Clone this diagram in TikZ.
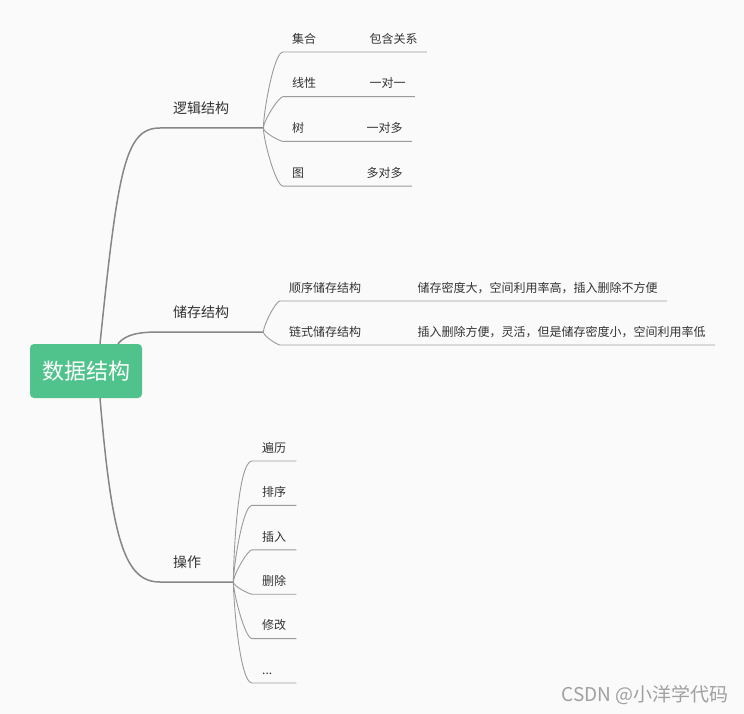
\documentclass[tikz,border=0pt]{standalone}
\usepackage{fontspec}
\setmainfont{Noto Sans CJK SC}
\usetikzlibrary{positioning}
\definecolor{bgc}{HTML}{FAFAFA}
\definecolor{rootc}{HTML}{50C28B}
\definecolor{txt}{HTML}{333333}
\definecolor{trunkc}{HTML}{868686}
\definecolor{twigc}{HTML}{9A9A9A}
\definecolor{markc}{HTML}{A0A0A0}

\begin{document}
\begin{tikzpicture}[
    x=1pt, y=1pt,
    rootbox/.style={fill=rootc, rounded corners=4pt, text=white, font=\fontsize{22}{26}\selectfont, minimum width=112pt, minimum height=54pt},
    topic/.style={anchor=south west, text=txt, font=\fontsize{14}{16}\selectfont, align=left, text width=#1, inner xsep=13pt, inner ysep=13pt, text height=12.3pt, text depth=1.7pt},
    leaf/.style={anchor=south west, text=txt, font=\fontsize{12}{14}\selectfont, inner xsep=9pt, inner ysep=7pt, text height=10.5pt, text depth=1.5pt},
    opleaf/.style={leaf, align=left, text width=24pt, inner xsep=10pt},
    trunk/.style={draw=trunkc, line width=1.5pt},
    twig/.style={draw=twigc, line width=0.9pt},
    fanup/.style={out=90, in=180, out looseness=0.5, in looseness=0.3},
    fandn/.style={out=-90, in=180, out looseness=0.5, in looseness=0.3}
]
\fill[bgc] (0,0) rectangle (744,-714);
\useasboundingbox (0,0) rectangle (744,-714);

\node[rootbox] (root) at (86,-371) {数据结构};
\node[topic=77pt] (logic) at (160,-128) {逻辑结构};
\node[topic=77pt] (store) at (160,-332) {储存结构};
\node[topic=47pt] (oper) at (160,-582) {操作};

% logic
\node[leaf] (set) at (283,-52) {集合};
\node[leaf, below=44.7pt of set.south west, anchor=south west] (lin) {线性};
\node[leaf, below=44.7pt of lin.south west, anchor=south west] (tree) {树};
\node[leaf, below=44.7pt of tree.south west, anchor=south west] (graph) {图};
\node[leaf, right=35pt of set.south east, anchor=south west] (incl) {包含关系};
\node[leaf, right=35pt of lin.south east, anchor=south west] (one) {一对一};
\node[leaf, right=44pt of tree.south east, anchor=south west] (onemany) {一对多};
\node[leaf, right=44pt of graph.south east, anchor=south west] (manymany) {多对多};

% store
\node[leaf] (seq) at (280,-301) {顺序储存结构};
\node[leaf, below=44pt of seq.south west, anchor=south west] (link) {链式储存结构};
\node[leaf, right=38pt of seq.south east, anchor=south west] (seqnote) {储存密度大，空间利用率高，插入删除不方便};
\node[leaf, right=38pt of link.south east, anchor=south west] (linknote) {插入删除方便，灵活，但是储存密度小，空间利用率低};

% oper
\node[opleaf] (trav) at (252,-461) {遍历};
\node[opleaf, below=44.4pt of trav.south west, anchor=south west] (sort) {排序};
\node[opleaf, below=44.4pt of sort.south west, anchor=south west] (ins) {插入};
\node[opleaf, below=44.4pt of ins.south west, anchor=south west] (del) {删除};
\node[opleaf, below=44.4pt of del.south west, anchor=south west] (mod) {修改};
\node[opleaf, below=44.4pt of mod.south west, anchor=south west] (etc) {...};

\draw[trunk] ([xshift=14pt]root.north) .. controls +(18,175) and +(-35,0) .. (logic.south west) -- (logic.south east);
\draw[trunk] ([xshift=32pt]root.north) .. controls +(8,10) and +(-20,0) .. (store.south west) -- (store.south east);
\draw[trunk] ([xshift=14pt]root.south) .. controls +(12,-143) and +(-35,0) .. (oper.south west) -- (oper.south east);

\foreach \c/\e/\d in {set/incl/fanup, lin/one/fanup, tree/onemany/fandn, graph/manymany/fandn}
    \draw[twig] (logic.south east) to[\d] (\c.south west) -- (\c.south east) -- (\e.south west) -- (\e.south east);
\foreach \c/\e/\d in {seq/seqnote/fanup, link/linknote/fandn}
    \draw[twig] (store.south east) to[\d] (\c.south west) -- (\c.south east) -- (\e.south west) -- (\e.south east);
\foreach \c/\d in {trav/fanup, sort/fanup, ins/fanup, del/fandn, mod/fandn, etc/fandn}
    \draw[twig] (oper.south east) to[\d] (\c.south west) -- (\c.south east);

\node[anchor=east, text=markc, font=\fontsize{19}{21}\selectfont, inner sep=0pt] (wm) at (729,-695) {CSDN @小洋学代码};
\end{tikzpicture}
\end{document}
